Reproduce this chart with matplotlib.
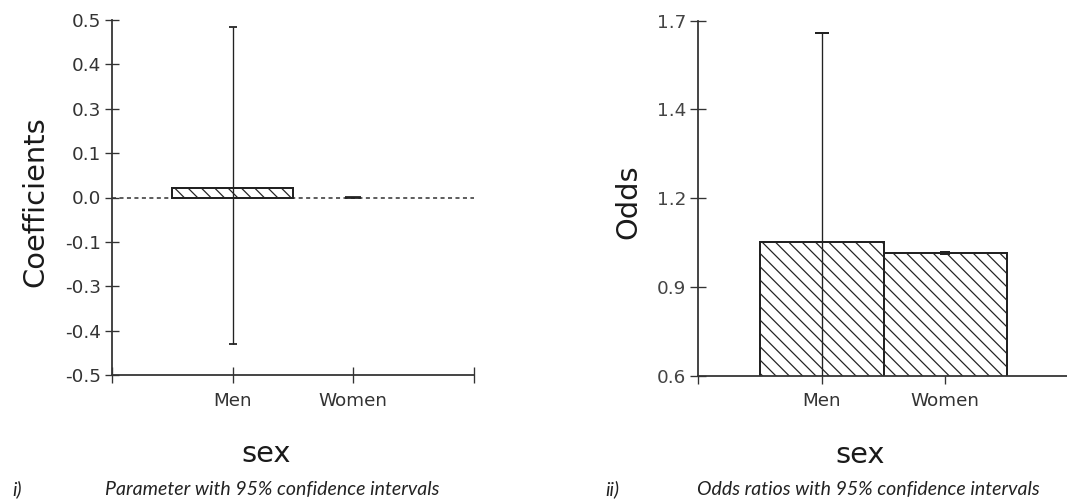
import numpy as np
import matplotlib
matplotlib.use("Agg")
import matplotlib.pyplot as plt

# values
sex = ["Men", "Women"]
coef = [0.027, 0.0]
coef_lo = [-0.414, -0.001]
coef_hi = [0.481, 0.001]
odds = [1.015, 0.979]
odds_lo = [0.50, 0.976]
odds_hi = [1.661, 0.982]

coef_ticks = np.linspace(-0.5, 0.5, 9)
coef_labels = ["-0.5", "-0.4", "-0.3", "-0.1", "0.0", "0.1", "0.3", "0.4", "0.5"]
odds_ticks = np.linspace(0.6, 1.7, 5)
odds_labels = ["0.6", "0.9", "1.2", "1.4", "1.7"]

plt.rcParams["font.family"] = ["DejaVu Sans"]
plt.rcParams["hatch.linewidth"] = 1.1
plt.rcParams["hatch.color"] = "#222222"

W, H, DPI = 1067, 501, 80
fig = plt.figure(figsize=(W / DPI, H / DPI), dpi=DPI)

ax1 = fig.add_axes([112 / W, 126 / H, 362 / W, 355 / H])
ax2 = fig.add_axes([698 / W, 125.3 / H, 371 / W, 355 / H])

x = np.arange(1, len(sex) + 1)


def style_axes(ax, tick_col, xdir, ylen):
    for s in ["top", "right"]:
        ax.spines[s].set_visible(False)
    for s in ["left", "bottom"]:
        ax.spines[s].set_color("#333333")
        ax.spines[s].set_linewidth(1.6)
    ax.set_xlim(0, 3)
    ax.set_xticks([0, 1, 2, 3])
    ax.set_xticklabels([""] + sex + [""])
    ax.tick_params(axis="y", direction="inout", length=ylen, width=1.2,
                   color="#333333", labelsize=16.5, labelcolor=tick_col, pad=3.5)
    ax.tick_params(axis="x", direction=xdir, length=15 if xdir == "inout" else 7,
                   width=1.2, color="#333333", labelsize=16.5,
                   labelcolor="#333333", pad=8)
    ax.patch.set_visible(False)


# i) coefficients
ax1.axhline(0, color="#333333", lw=1.4, ls=(0, (2.6, 2.2)), zorder=1)
bars = ax1.bar(x, coef, width=1.0, color="white", edgecolor="#222222",
               linewidth=1.8, hatch="\\\\", zorder=2)
for b, v in zip(bars, coef):
    if v == 0:
        b.set_visible(False)
for xi, c, lo, hi, cs in zip(x, coef, coef_lo, coef_hi, [3.2, 7.6]):
    ax1.errorbar(xi, c, yerr=[[c - lo], [hi - c]], fmt="none", ecolor="#222222",
                 elinewidth=1.2, capsize=cs, capthick=1.6, zorder=3)
ax1.set_ylim(-0.5, 0.5)
ax1.set_yticks(coef_ticks)
ax1.set_yticklabels(coef_labels)
style_axes(ax1, "#333333", "inout", 12)
ax1.set_ylabel("Coefficients", fontsize=26, color="#1a1a1a")
ax1.yaxis.set_label_coords(-0.174, 0.489)
ax1.set_xlabel("sex", fontsize=26, color="#1a1a1a")
ax1.xaxis.label.set_va("baseline")
ax1.xaxis.set_label_coords(0.425, -0.245)

# ii) odds ratios
ax2.bar(x, odds, width=1.0, color="white", edgecolor="#222222",
        linewidth=1.8, hatch="\\\\", zorder=2)
for xi, o, lo, hi, cs in zip(x, odds, odds_lo, odds_hi, [6.3, 4.8]):
    ax2.errorbar(xi, o, yerr=[[o - lo], [hi - o]], fmt="none", ecolor="#222222",
                 elinewidth=1.2, capsize=cs, capthick=1.8, zorder=3)
ax2.set_ylim(0.6, 1.7)
ax2.set_yticks(odds_ticks)
ax2.set_yticklabels(odds_labels)
style_axes(ax2, "#444444", "out", 14)
ax2.set_ylabel("Odds", fontsize=26, color="#1a1a1a")
ax2.yaxis.set_label_coords(-0.151, 0.489)
ax2.set_xlabel("sex", fontsize=26, color="#1a1a1a")
ax2.xaxis.label.set_va("baseline")
ax2.xaxis.set_label_coords(0.437, -0.245)

# captions under the panels
cap = dict(fontsize=17.5, family=["Lato", "DejaVu Sans"], style="italic",
           color="#222222", va="baseline")
fig.text(12 / W, 6 / H, "i)", **cap)
fig.text(105 / W, 6 / H, "Parameter with 95% confidence intervals", **cap)
fig.text(605 / W, 6 / H, "ii)", **cap)
fig.text(697 / W, 6 / H, "Odds ratios with 95% confidence intervals", **cap)

fig.savefig("out.png", dpi=DPI)
